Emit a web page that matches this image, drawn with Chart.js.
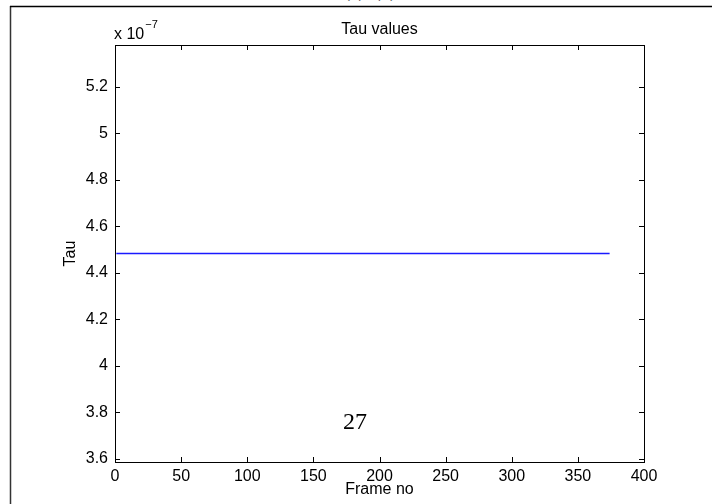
<!DOCTYPE html>
<html>
<head>
<meta charset="utf-8">
<title>Tau values</title>
<script src="https://cdn.jsdelivr.net/npm/chart.js@4/dist/chart.umd.min.js"></script>
<style>
  html, body { margin: 0; padding: 0; background: #fff; }
  #page { position: relative; width: 712px; height: 504px; overflow: hidden; }
  #header {
    position: absolute; left: 0; width: 740px; top: -20px;
    text-align: center; font: 19px "Liberation Serif", serif; color: #000;
  }
  #plot { position: absolute; left: 0; top: 0; }
</style>
</head>
<body>
<div id="page">
  <div id="header">(a), (b)</div>
  <canvas id="plot" width="712" height="504"></canvas>
</div>
<script>
// Tau per frame, in units of 1e-7
const EXPONENT = -7;
const frameNo = [1, 374];
const tauValues = [4.483, 4.483];

// axis limits and tick marks
const xMin = 0, xMax = 400;
const xTicks = [0, 50, 100, 150, 200, 250, 300, 350, 400];
const yMin = 3.5866, yMax = 5.3799;
const yTicks = [3.6, 3.8, 4.0, 4.2, 4.4, 4.6, 4.8, 5.0, 5.2];

const pageNumber = '27';
const FONT = '"Liberation Sans Narrow", "Liberation Sans", Arial, sans-serif';
const FONT_SIZE = 16;

/**
 * Box around the axes with inward ticks on all four sides,
 * plus the title, the exponent label, the page frame and page number
 */
const axesBox = {
    id: 'axesBox',
    afterDraw(chart) {
        const {ctx, chartArea: a, scales: {x, y}} = chart;
        const len = 5;
        ctx.save();

        // page frame lines
        ctx.strokeStyle = '#333';
        ctx.lineWidth = 1.5;
        ctx.beginPath();
        ctx.moveTo(10.5, 6);
        ctx.lineTo(10.5, 504);
        ctx.stroke();
        ctx.strokeStyle = '#000';
        ctx.beginPath();
        ctx.moveTo(10, 6.5);
        ctx.lineTo(712, 6.5);
        ctx.stroke();

        // axes box
        ctx.strokeStyle = '#000';
        ctx.lineWidth = 1;
        ctx.strokeRect(Math.round(a.left) + 0.5, Math.round(a.top) + 0.5,
            Math.round(a.right - a.left), Math.round(a.bottom - a.top));

        ctx.beginPath();
        xTicks.forEach(v => {
            const px = Math.round(x.getPixelForValue(v)) + 0.5;
            ctx.moveTo(px, a.bottom);
            ctx.lineTo(px, a.bottom - len);
            ctx.moveTo(px, a.top);
            ctx.lineTo(px, a.top + len);
        });
        yTicks.forEach(v => {
            const py = Math.round(y.getPixelForValue(v)) + 0.5;
            ctx.moveTo(a.left, py);
            ctx.lineTo(a.left + len, py);
            ctx.moveTo(a.right, py);
            ctx.lineTo(a.right - len, py);
        });
        ctx.stroke();

        // title
        ctx.fillStyle = '#000';
        ctx.font = FONT_SIZE + 'px ' + FONT;
        ctx.textAlign = 'center';
        ctx.textBaseline = 'middle';
        ctx.fillText('Tau values', (a.left + a.right) / 2, 30);

        // exponent label
        ctx.textAlign = 'left';
        ctx.fillText('x 10', a.left - 1, 35);
        const w = ctx.measureText('x 10').width;
        ctx.font = '11px ' + FONT;
        ctx.fillText('\u2212' + Math.abs(EXPONENT), a.left - 1 + w + 1, 25);

        // page number
        ctx.font = '24px "Liberation Serif", "Times New Roman", serif';
        ctx.textAlign = 'center';
        ctx.fillText(pageNumber, 355, 423);

        ctx.restore();
    }
};

function renderTauChart() {
    const ctx = document.getElementById('plot').getContext('2d');

    new Chart(ctx, {
        type: 'line',
        data: {
            datasets: [{
                label: 'Tau',
                data: frameNo.map((f, i) => ({x: f, y: tauValues[i]})),
                borderColor: '#1a1aff',
                borderWidth: 1.4,
                pointRadius: 0,
                fill: false,
                tension: 0
            }]
        },
        options: {
            responsive: false,
            animation: false,
            layout: {
                padding: {left: 61, right: 68, top: 45, bottom: 5}
            },
            plugins: {
                legend: {display: false},
                title: {display: false},
                tooltip: {enabled: false}
            },
            scales: {
                x: {
                    type: 'linear',
                    min: xMin,
                    max: xMax,
                    afterBuildTicks: scale => {
                        scale.ticks = xTicks.map(v => ({value: v}));
                    },
                    afterFit: scale => { scale.height = 37; },
                    grid: {display: false, drawTicks: false},
                    border: {display: false},
                    ticks: {
                        color: '#000',
                        font: {family: FONT, size: FONT_SIZE},
                        padding: 5,
                        maxRotation: 0,
                        callback: v => String(v)
                    },
                    title: {
                        display: true,
                        text: 'Frame no',
                        color: '#000',
                        font: {family: FONT, size: FONT_SIZE},
                        padding: 0
                    }
                },
                y: {
                    type: 'linear',
                    min: yMin,
                    max: yMax,
                    afterBuildTicks: scale => {
                        scale.ticks = yTicks.map(v => ({value: v}));
                    },
                    afterFit: scale => { scale.width = 54; },
                    grid: {display: false, drawTicks: false},
                    border: {display: false},
                    ticks: {
                        color: '#000',
                        font: {family: FONT, size: FONT_SIZE},
                        padding: 7,
                        callback: v => String(Math.round(v * 10) / 10)
                    },
                    title: {
                        display: true,
                        text: 'Tau',
                        color: '#000',
                        font: {family: FONT, size: FONT_SIZE},
                        padding: 0
                    }
                }
            }
        },
        plugins: [axesBox]
    });
}

renderTauChart();
</script>
</body>
</html>
